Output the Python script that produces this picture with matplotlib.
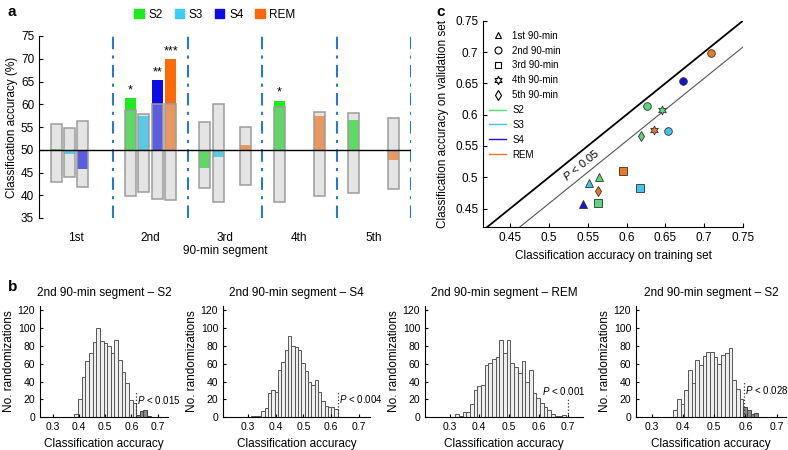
import numpy as np
import matplotlib
matplotlib.use('Agg')
import matplotlib.pyplot as plt
from matplotlib.patches import Patch
from matplotlib.lines import Line2D

plt.rcParams['font.family'] = 'Liberation Sans'
plt.rcParams['mathtext.fontset'] = 'custom'
plt.rcParams['mathtext.it'] = 'Liberation Sans:italic'
plt.rcParams['mathtext.rm'] = 'Liberation Sans'
nan = np.nan

# --- data ---
segments = ['1st', '2nd', '3rd', '4th', '5th']
stages = ['S2', 'S3', 'S4', 'REM']

# classification accuracy, training / validation set (per 90-min segment)
train_s2 = [0.565, 0.626, 0.563, 0.645, 0.618]
val_s2 = [0.501, 0.614, 0.459, 0.608, 0.566]
train_s3 = [0.552, 0.653, 0.617, nan, nan]
val_s3 = [0.490, 0.574, 0.483, nan, nan]
train_s4 = [0.544, 0.673, nan, nan, nan]
val_s4 = [0.457, 0.653, nan, nan, nan]
train_rem = [nan, 0.709, 0.596, 0.635, 0.563]
val_rem = [nan, 0.699, 0.510, 0.575, 0.478]

# randomization range (%) per segment
lo_s2 = [42.9, 39.8, 41.7, 38.5, 40.5]
hi_s2 = [55.6, 58.8, 56.2, 59.4, 58.1]
lo_s3 = [44.1, 40.8, 38.6, nan, nan]
hi_s3 = [54.7, 57.9, 60.1, nan, nan]
lo_s4 = [41.8, 39.2, nan, nan, nan]
hi_s4 = [56.4, 60.1, nan, nan, nan]
lo_rem = [nan, 38.9, 42.2, 39.9, 41.3]
hi_rem = [nan, 60.1, 55.1, 58.4, 57.0]

stars_s2 = ['', '*', '', '*', '']
stars_s4 = ['', '**', '', '', '']
stars_rem = ['', '***', '', '', '']

# randomization histograms (2nd segment)
hist_titles = ['2nd 90-min segment – S2', '2nd 90-min segment – S4',
               '2nd 90-min segment – REM', '2nd 90-min segment – S2']
h1_counts = [4, 21, 45, 63, 72, 84, 100, 85, 83, 80, 72, 87, 64, 51, 38, 19, 16, 3, 7, 8, 2]
h2_counts = [2, 2, 2, 7, 10, 27, 30, 28, 53, 62, 75, 91, 80, 79, 75, 61, 52, 40, 36, 42,
             28, 18, 13, 11, 11, 9]
h3_counts = [4, 2, 6, 6, 15, 31, 35, 36, 59, 61, 65, 67, 87, 72, 86, 61, 56, 49, 63, 40,
             53, 27, 22, 16, 11, 8, 4, 2, 1, 3]
h4_counts = [8, 20, 15, 30, 53, 38, 64, 58, 69, 73, 73, 68, 60, 70, 72, 77, 42, 32, 20,
             12, 8, 4, 5]
bin_start = [0.382, 0.312, 0.3194, 0.369]
bin_width = [0.0139, 0.012, 0.0124, 0.0118]
n_dark = [4, 0, 0, 4]
observed = [0.618, 0.624, 0.700, 0.596]
obs_line_top = [28, 28, 22, 40]
p_text = ['0.015', '0.004', '0.001', '0.028']

bright = {'S2': '#1cec1c', 'S3': '#3ccdf2', 'S4': '#0c0ce6', 'REM': '#ff6a08'}
light = {'S2': '#5fd865', 'S3': '#5bc8e4', 'S4': '#5d5de0', 'REM': '#e8985e'}
point_col = {'S2': '#5ad877', 'S3': '#45c3ea', 'S4': '#1515cc', 'REM': '#ec7a22'}

fig = plt.figure(figsize=(7.88, 4.5), dpi=100)

# ---------------- panel a ----------------
axa = fig.add_axes([39 / 788, 232 / 450, 372 / 788, 182 / 450])
offsets = [-0.27, -0.09, 0.09, 0.27]
w = 0.15
vals = [val_s2, val_s3, val_s4, val_rem]
los = [lo_s2, lo_s3, lo_s4, lo_rem]
his = [hi_s2, hi_s3, hi_s4, hi_rem]
stars = [stars_s2, ['', '', '', '', ''], stars_s4, stars_rem]
for k, st in enumerate(stages):
    for i in range(5):
        v = vals[k][i] * 100
        lo, hi = los[k][i], his[k][i]
        if np.isnan(v):
            continue
        x = i + 1 + offsets[k]
        axa.bar(x, hi - lo, bottom=lo, width=w, color='#e4e4e4', edgecolor='none', zorder=1)
        if v >= 50:
            inner = min(v, hi)
            axa.bar(x, inner - 50, bottom=50, width=w, color=light[st], zorder=2)
            if v > hi:
                axa.bar(x, v - hi, bottom=hi, width=w, color=bright[st], zorder=2)
        else:
            inner = max(v, lo)
            axa.bar(x, 50 - inner, bottom=inner, width=w, color=light[st], zorder=2)
        axa.bar(x, hi - lo, bottom=lo, width=w, fill=False, edgecolor='#9c9c9c', lw=1.1, zorder=3)
        if stars[k][i]:
            axa.text(x, max(v, hi) + 0.4, stars[k][i], ha='center', va='bottom', fontsize=9)

axa.axhline(50, color='black', lw=1, zorder=4)
for b in [1.5, 2.5, 3.5, 4.5, 5.5]:
    axa.axvline(b, color='#2a78d0', lw=1.5, linestyle=(0, (6, 3, 1.5, 3)), zorder=0)
axa.set_xlim(0.5, 5.5)
axa.set_ylim(35, 75)
axa.set_yticks(range(35, 80, 5))
axa.set_xticks(range(1, 6))
axa.set_xticklabels(segments)
axa.tick_params(axis='x', length=0, labelsize=8.5, pad=10)
axa.tick_params(axis='y', direction='in', length=3, labelsize=8.5)
for s in ['top', 'right', 'bottom']:
    axa.spines[s].set_visible(False)
axa.set_ylabel('Classification accuracy (%)', fontsize=8.5, labelpad=2)
axa.set_xlabel('90-min segment', fontsize=8.5, labelpad=1)

handles = [Patch(color=bright[s], label=s) for s in stages]
fig.legend(handles=handles, loc='center', bbox_to_anchor=(215 / 788, 1 - 15 / 450), ncol=4,
           frameon=False, fontsize=8.5, handlelength=0.8, handleheight=0.8,
           handletextpad=0.4, columnspacing=1.0)

# ---------------- panel c ----------------
axc = fig.add_axes([483 / 788, (450 - 227.3) / 450, 260 / 788, 206.6 / 450])
axc.set_xlim(0.415, 0.75)
axc.set_ylim(0.42, 0.75)
lim = np.array([0.4, 0.76])
axc.plot(lim, lim, color='black', lw=1.3)
axc.plot(lim, lim - 0.042, color='#555555', lw=0.8)
axc.text(0.541, 0.52, '$P$ < 0.05', fontsize=8, ha='center', va='center',
         rotation=45, rotation_mode='anchor', transform_rotates_text=True)
markers = ['^', 'o', 's', (6, 1, 0), 'd']
trains = [train_s2, train_s3, train_s4, train_rem]
for k, st in enumerate(stages):
    for i in range(5):
        if np.isnan(trains[k][i]):
            continue
        ms = 5.5 if i != 3 else 6.5
        axc.plot(trains[k][i], vals[k][i], marker=markers[i], ms=ms, color=point_col[st],
                 mec='#333333', mew=0.6, ls='none')
axc.set_xticks([0.45, 0.5, 0.55, 0.6, 0.65, 0.7, 0.75])
axc.set_xticklabels(['0.45', '0.5', '0.55', '0.6', '0.65', '0.7', '0.75'])
axc.set_yticks([0.45, 0.5, 0.55, 0.6, 0.65, 0.7, 0.75])
axc.set_yticklabels(['0.45', '0.5', '0.55', '0.6', '0.65', '0.7', '0.75'])
axc.tick_params(direction='in', length=3, labelsize=8.5)
for s in ['top', 'right']:
    axc.spines[s].set_visible(False)
axc.set_xlabel('Classification accuracy on training set', fontsize=8.5)
axc.set_ylabel('Classification accuracy on validation set', fontsize=8.5)
leg_h = [Line2D([], [], marker=markers[i], ls='none', mfc='white', mec='black', mew=0.8,
                ms=5 if i != 3 else 6, label=f'{segments[i]} 90-min') for i in range(5)]
leg_h += [Line2D([], [], color=point_col[s], lw=1, label=s) for s in stages]
axc.legend(handles=leg_h, loc='upper left', bbox_to_anchor=(0.0, 0.98), frameon=False,
           fontsize=7, handlelength=1.8, labelspacing=0.5, borderaxespad=0.2,
           handletextpad=0.6)

# ---------------- panel b ----------------
counts_all = [h1_counts, h2_counts, h3_counts, h4_counts]
b_pos = [(40, 128), (223, 147), (425, 158), (636, 150)]
b_xlim = [(0.25, 0.74), (0.21, 0.74), (0.217, 0.75), (0.25, 0.73)]
p_xy = [(0.622, 19.5, 'left'), (0.628, 21, 'left'), (0.684, 29, 'center'), (0.599, 31, 'left')]
for j in range(4):
    left, width = b_pos[j]
    ax = fig.add_axes([left / 788, 32.7 / 450, width / 788, 111.75 / 450])
    c = np.array(counts_all[j], dtype=float)
    edges = bin_start[j] + bin_width[j] * np.arange(len(c))
    nl = len(c) - n_dark[j]
    ax.bar(edges[:nl], c[:nl], width=bin_width[j], align='edge', color='#eeeeee',
           edgecolor='#555555', lw=0.7)
    if n_dark[j]:
        ax.bar(edges[nl:], c[nl:], width=bin_width[j], align='edge', color='#8a8a8a',
               edgecolor='#444444', lw=0.7)
    ax.plot([observed[j], observed[j]], [0, obs_line_top[j]], color='#333333', lw=0.9, ls=':')
    px, py, ha = p_xy[j]
    ax.text(px, py, '$P$ < ' + p_text[j], fontsize=7, ha=ha, va='center')
    ax.set_xlim(*b_xlim[j])
    ax.set_ylim(0, 125)
    ax.set_xticks([0.3, 0.4, 0.5, 0.6, 0.7])
    ax.set_yticks(range(0, 121, 20))
    ax.tick_params(direction='in', length=2.5, labelsize=7.5)
    for s in ['top', 'right']:
        ax.spines[s].set_visible(False)
    ax.set_xlabel('Classification accuracy', fontsize=8.5)
    ax.set_ylabel('No. randomizations', fontsize=8.5, labelpad=2)
    ax.set_title(hist_titles[j], fontsize=8.5, pad=7)

fig.text(8 / 788, 1 - 12 / 450, 'a', fontsize=11, fontweight='bold', va='center')
fig.text(8 / 788, 1 - 287 / 450, 'b', fontsize=11, fontweight='bold', va='center')
fig.text(436 / 788, 1 - 12 / 450, 'c', fontsize=11, fontweight='bold', va='center')

fig.savefig('out.png', dpi=100)
